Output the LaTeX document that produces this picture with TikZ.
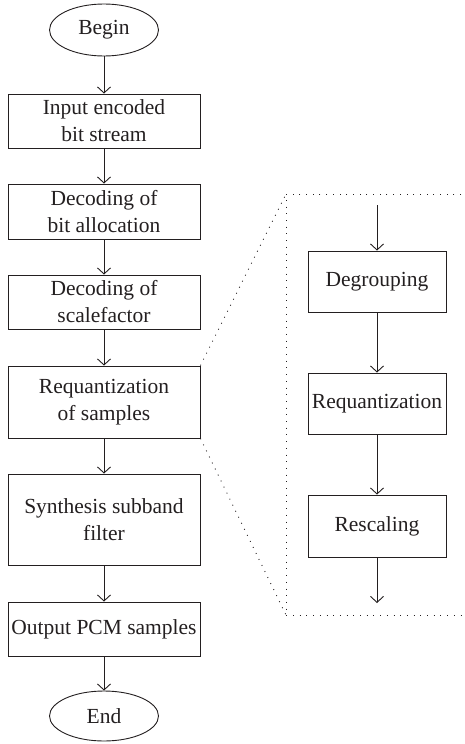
\documentclass[tikz,border=0pt]{standalone}
\usepackage{fontspec}
\setmainfont{Liberation Serif}
\usetikzlibrary{shapes.geometric,arrows.meta}
\definecolor{ink}{RGB}{35,31,32}
\begin{document}
\begin{tikzpicture}[x=1pt,y=-1pt,
  every node/.style={font=\fontsize{21.5pt}{27pt}\selectfont, text=ink, inner sep=0pt, align=center},
  stepbox/.style={draw=ink, line width=0.9pt, rectangle, minimum width=192pt},
  subbox/.style={draw=ink, line width=0.9pt, rectangle, minimum width=138pt, minimum height=61pt},
  terminal/.style={draw=ink, line width=0.9pt, ellipse, minimum width=109pt, minimum height=52pt},
  flow/.style={draw=ink, line width=0.9pt, -{Straight Barb[length=6pt,width=13pt,line width=0.9pt]}},
  zoomline/.style={draw=ink, line width=0.9pt, dash pattern=on 0.9pt off 5.8pt}]
\useasboundingbox (0,0) rectangle (464,744);

% main decoding chain
\node[terminal] (begin) at (104,30) {Begin};
\node[stepbox, minimum height=54pt] (input) at (104,121) {Input encoded\\bit stream};
\node[stepbox, minimum height=55pt] (alloc) at (104,211.5) {Decoding of\\bit allocation};
\node[stepbox, minimum height=54pt] (scale) at (104,302) {Decoding of\\scalefactor};
\node[stepbox, minimum height=72pt] (requant) at (104,402) {Requantization\\of samples};
\node[stepbox, minimum height=91pt] (synth) at (104,519.5) {Synthesis subband\\filter};
\node[stepbox, minimum height=54pt] (output) at (104,629) {Output PCM samples};
\node[terminal, minimum height=50pt] (end) at (104,716) {End};

\draw[flow] (begin) -- (input);
\draw[flow] (input) -- (alloc);
\draw[flow] (alloc) -- (scale);
\draw[flow] (scale) -- (requant);
\draw[flow] (requant) -- (synth);
\draw[flow] (synth) -- (output);
\draw[flow] (output) -- (end);

% detail of the requantization step
\coordinate (detin) at (377,205);
\coordinate (detout) at (377,603);
\node[subbox] (degroup) at (377,281.5) {Degrouping};
\node[subbox] (subreq) at (377,403.5) {Requantization};
\node[subbox, minimum height=62pt] (rescale) at (377,526) {Rescaling};

\draw[flow] (detin) -- (degroup);
\draw[flow] (degroup) -- (subreq);
\draw[flow] (subreq) -- (rescale);
\draw[flow] (rescale) -- (detout);

% dotted frame and zoom lines
\coordinate (ftl) at (286,194);
\coordinate (fbl) at (286,615);
\coordinate (ftr) at (461,194);
\coordinate (fbr) at (461,615);
\draw[zoomline] (ftr) -- (ftl) -- (fbl) -- (fbr);
\draw[zoomline] (requant.north east) -- (ftl);
\draw[zoomline] (requant.south east) -- (fbl);
\end{tikzpicture}
\end{document}
